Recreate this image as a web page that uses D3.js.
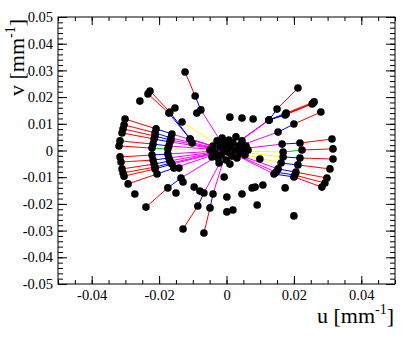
<!DOCTYPE html>
<html>
<head>
<meta charset="utf-8">
<script src="https://cdn.jsdelivr.net/npm/d3@7"></script>
<style>
  body { margin: 0; background: #fff; }
  text { font-family: "Liberation Serif", "Times New Roman", serif; }
</style>
</head>
<body>
<svg id="chart" width="415" height="339"></svg>
<script>
// axis ranges and ticks
const uDomain = [-0.05, 0.05]
const vDomain = [-0.05, 0.05]
const uTicks = [-0.04, -0.02, 0, 0.02, 0.04]
const uTickLabels = ["-0.04", "-0.02", "0", "0.02", "0.04"]
const vTicks = [0.05, 0.04, 0.03, 0.02, 0.01, 0, -0.01, -0.02, -0.03, -0.04, -0.05]
const vTickLabels = ["0.05", "0.04", "0.03", "0.02", "0.01", "0", "-0.01", "-0.02", "-0.03", "-0.04", "-0.05"]

// rays: points listed from the outside in, each ray ends at the origin
const rayPoints = [
  [[-0.0301, 0.0118], [-0.0209, 0.0081], [-0.0162, 0.0062]],
  [[-0.0307, 0.0081], [-0.0212, 0.0054], [-0.0165, 0.0039]],
  [[-0.0304, 0.0096], [-0.0212, 0.0066], [-0.0165, 0.0047]],
  [[-0.0310, 0.0066], [-0.0215, 0.0043], [-0.0168, 0.0032]],
  [[-0.0316, 0.0036], [-0.0218, 0.0024], [-0.0171, 0.0017]],
  [[-0.0319, 0.0017], [-0.0221, 0.0009], [-0.0174, 0.0006]],
  [[-0.0316, -0.0024], [-0.0221, -0.0017], [-0.0174, -0.0013]],
  [[-0.0313, -0.0043], [-0.0218, -0.0036], [-0.0171, -0.0028]],
  [[-0.0310, -0.0069], [-0.0215, -0.0051], [-0.0168, -0.0039]],
  [[-0.0307, -0.0084], [-0.0212, -0.0062], [-0.0165, -0.0047]],
  [[-0.0304, -0.0096], [-0.0212, -0.0069], [-0.0162, -0.0051]],
  [[-0.0292, -0.0125], [-0.0206, -0.0088], [-0.0156, -0.0066]],
  [[-0.0123, 0.0294], [-0.0093, 0.0204], [-0.0076, 0.0152]],
  [[-0.0227, 0.0223], [-0.0168, 0.0144], [-0.0108, 0.0043]],
  [[-0.0233, 0.0212], [-0.0171, 0.0140], [-0.0108, 0.0043]],
  [[-0.0132, 0.0107]],
  [[-0.0239, -0.0212], [-0.0174, -0.0140], [-0.0135, -0.0103]],
  [[-0.0129, -0.0294], [-0.0085, -0.0208], [-0.0067, -0.0159]],
  [[-0.0067, -0.0309], [-0.0049, -0.0215], [-0.0040, -0.0163]],
  [[0.0212, 0.0234], [0.0150, 0.0155], [0.0126, 0.0114]],
  [[0.0257, 0.0178], [0.0177, 0.0137], [0.0126, 0.0114]],
  [[0.0260, 0.0182], [0.0177, 0.0140], [0.0126, 0.0114]],
  [[0.0254, 0.0174], [0.0174, 0.0133], [0.0126, 0.0114]],
  [[0.0280, 0.0144], [0.0200, 0.0099], [0.0153, 0.0069]],
  [[0.0313, 0.0043], [0.0218, 0.0028], [0.0165, 0.0024]],
  [[0.0316, 0.0006], [0.0224, 0.0002], [0.0168, -0.0006]],
  [[0.0316, -0.0032], [0.0218, -0.0028], [0.0168, -0.0024]],
  [[0.0307, -0.0069], [0.0212, -0.0054], [0.0162, -0.0047]],
  [[0.0298, -0.0103], [0.0206, -0.0081], [0.0153, -0.0069]],
  [[0.0292, -0.0122], [0.0203, -0.0092], [0.0147, -0.0081]],
  [[0.0283, -0.0137], [0.0200, -0.0099], [0.0141, -0.0088]]
]
// segment classes, same order as the points (last one goes to the origin)
const raySegments = [
  "rbm", "rbm", "rbm", "rbm", "rbm", "rgy", "rbm", "rbm", "rbm", "rbm", "rbm", "rbm",
  "rbm", "rbm", "rbm", "y", "rbm", "rbm", "rbm",
  "rbm", "rbm", "rbm", "rbm", "rbm", "rbm", "rgy", "rby", "rby", "rbm", "rbm", "rbm"
]

const loosePoints = [
  [-0.0257, 0.0185], [-0.0153, 0.0159], [-0.0088, 0.0140], [-0.0102, 0.0028],
  [-0.0141, -0.0066], [-0.0150, -0.0159], [-0.0272, -0.0163], [-0.0129, -0.0118],
  [-0.0096, -0.0137], [-0.0079, -0.0152],
  [0.0010, 0.0125], [0.0046, 0.0122], [0.0079, 0.0118],
  [0.0099, -0.0032], [-0.0007, -0.0099], [0.0001, -0.0174], [0.0046, -0.0163],
  [0.0076, -0.0140], [0.0085, -0.0137], [0.0108, -0.0129], [0.0174, -0.0140],
  [0.0091, -0.0204], [0.0001, -0.0230], [0.0019, -0.0223], [0.0200, -0.0245]
]

const centerPoints = [
  [-0.0049, 0.0002], [-0.0040, 0.0017], [-0.0034, -0.0009], [-0.0028, 0.0036],
  [-0.0025, -0.0028], [-0.0019, 0.0013], [-0.0016, -0.0017], [-0.0013, 0.0047],
  [-0.0007, 0.0002], [-0.0004, 0.0024], [-0.0001, -0.0036], [0.0004, -0.0006],
  [0.0007, 0.0039], [0.0010, 0.0013], [0.0016, -0.0021], [0.0019, 0.0028],
  [0.0025, 0.0002], [0.0028, 0.0051], [0.0031, -0.0028], [0.0037, 0.0017],
  [0.0040, -0.0009], [0.0046, 0.0036], [0.0049, 0.0006], [0.0055, -0.0017],
  [0.0058, 0.0017], [-0.0043, -0.0024], [-0.0022, -0.0047], [0.0010, -0.0051],
  [0.0064, 0.0002], [-0.0013, 0.0032]
]

const segColor = d3.scaleOrdinal()
  .domain(["r", "b", "m", "y", "g"])
  .range(["#ff0000", "#0000ff", "#ff00ff", "#ffff00", "#00cc00"])

const svg = d3.select("#chart")
const frameL = 58, frameR = 395, frameT = 17, frameB = 284

let x = d3.scaleLinear().domain(uDomain).range([frameL, frameR])
let y = d3.scaleLinear().domain(vDomain).range([frameB, frameT])

// lines first
let segs = []
for (let i = 0; i < rayPoints.length; i++) {
  let pts = rayPoints[i].concat([[0, 0]])
  for (let j = 0; j < pts.length - 1; j++) {
    segs.push({ a: pts[j], b: pts[j + 1], c: raySegments[i][j] })
  }
}
svg.append("g").selectAll("line").data(segs).enter().append("line")
  .attr("x1", d => x(d.a[0])).attr("y1", d => y(d.a[1]))
  .attr("x2", d => x(d.b[0])).attr("y2", d => y(d.b[1]))
  .attr("stroke", d => segColor(d.c)).attr("stroke-width", 1)

// markers on top
let allPts = []
rayPoints.forEach(r => r.forEach(p => allPts.push(p)))
allPts = allPts.concat(loosePoints, centerPoints)
svg.append("g").selectAll("circle").data(allPts).enter().append("circle")
  .attr("cx", d => x(d[0])).attr("cy", d => y(d[1]))
  .attr("r", 3.8).attr("fill", "#000")

// frame
svg.append("rect").attr("x", frameL).attr("y", frameT)
  .attr("width", frameR - frameL).attr("height", frameB - frameT)
  .attr("fill", "none").attr("stroke", "#000").attr("stroke-width", 1)

function styleAxis(g) {
  g.select(".domain").remove()
  g.selectAll("line").attr("stroke", "#000")
  g.selectAll("text").attr("font-size", 14.5).attr("fill", "#000")
    .attr("font-family", "Liberation Serif, serif")
}
let uMinor = d3.range(-0.05, 0.0501, 0.005)
let vMinor = d3.range(-0.05, 0.0501, 0.002)

// bottom / top axes
svg.append("g").attr("transform", "translate(0," + frameB + ")")
  .call(d3.axisBottom(x).tickValues(uTicks).tickSize(-8).tickPadding(6)
    .tickFormat((d, i) => uTickLabels[i])).call(styleAxis)
svg.append("g").attr("transform", "translate(0," + frameB + ")")
  .call(d3.axisBottom(x).tickValues(uMinor).tickSize(-4).tickFormat("")).call(styleAxis)
svg.append("g").attr("transform", "translate(0," + frameT + ")")
  .call(d3.axisTop(x).tickValues(uTicks).tickSize(-8).tickFormat("")).call(styleAxis)
svg.append("g").attr("transform", "translate(0," + frameT + ")")
  .call(d3.axisTop(x).tickValues(uMinor).tickSize(-4).tickFormat("")).call(styleAxis)

// left / right axes
svg.append("g").attr("transform", "translate(" + frameL + ",0)")
  .call(d3.axisLeft(y).tickValues(vTicks).tickSize(-9).tickPadding(5)
    .tickFormat((d, i) => vTickLabels[i])).call(styleAxis)
svg.append("g").attr("transform", "translate(" + frameL + ",0)")
  .call(d3.axisLeft(y).tickValues(vMinor).tickSize(-5).tickFormat("")).call(styleAxis)
svg.append("g").attr("transform", "translate(" + frameR + ",0)")
  .call(d3.axisRight(y).tickValues(vTicks).tickSize(-9).tickFormat("")).call(styleAxis)
svg.append("g").attr("transform", "translate(" + frameR + ",0)")
  .call(d3.axisRight(y).tickValues(vMinor).tickSize(-5).tickFormat("")).call(styleAxis)

// axis titles
let xt = svg.append("text").attr("x", frameR - 1).attr("y", 323)
  .attr("text-anchor", "end").attr("font-size", 22)
xt.append("tspan").text("u [mm")
xt.append("tspan").attr("font-size", 14).attr("dy", -9).text("-1")
xt.append("tspan").attr("dy", 9).text("]")

let yt = svg.append("text").attr("transform", "translate(24," + (frameT + 2) + ") rotate(-90)")
  .attr("text-anchor", "end").attr("font-size", 22)
yt.append("tspan").text("v [mm")
yt.append("tspan").attr("font-size", 14).attr("dy", -9).text("-1")
yt.append("tspan").attr("dy", 9).text("]")
</script>
</body>
</html>
